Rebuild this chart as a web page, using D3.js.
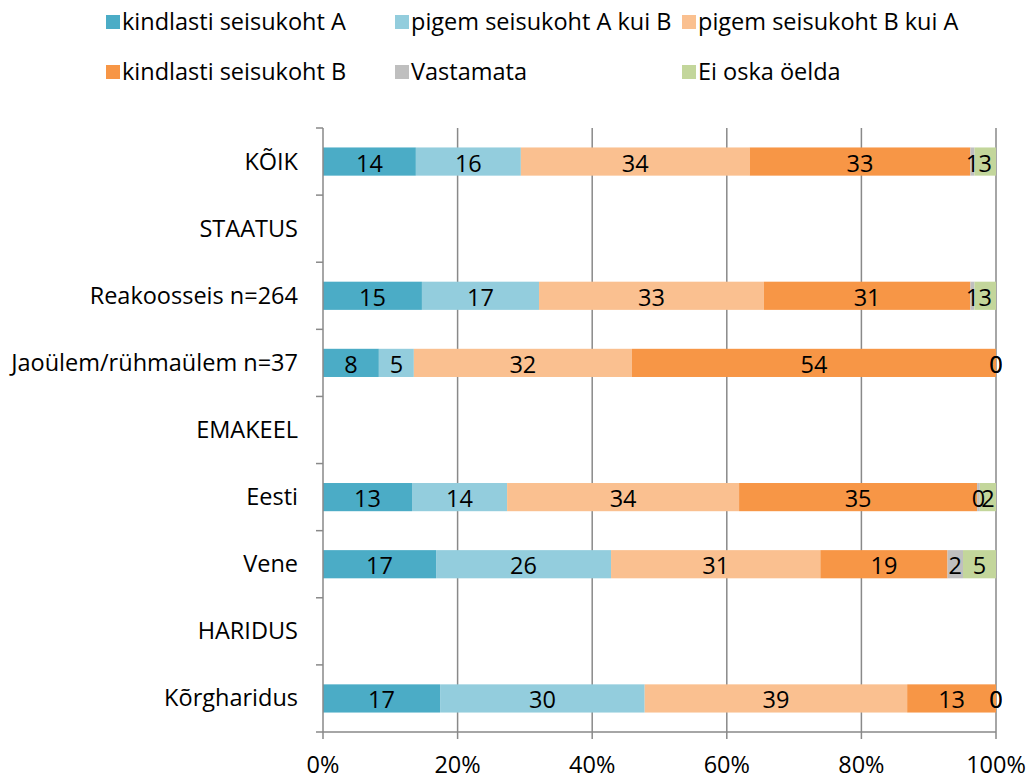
<!DOCTYPE html>
<html><head><meta charset="utf-8">
<script src="https://cdn.jsdelivr.net/npm/d3@7/dist/d3.min.js"></script>
<style>body{margin:0;background:#fff}text{font-family:"Open Sans",Lato,sans-serif}</style>
</head><body><svg id="c" width="1031" height="780"></svg>
<script>
const categories = ["KÕIK","STAATUS","Reakoosseis n=264","Jaoülem/rühmaülem n=37","EMAKEEL","Eesti","Vene","HARIDUS","Kõrgharidus"];
const seriesNames = ["kindlasti seisukoht A","pigem seisukoht A kui B","pigem seisukoht B kui A","kindlasti seisukoht B","Vastamata","Ei oska öelda"];
const colors = ["#4BACC6","#93CDDD","#FAC090","#F79646","#BFBFBF","#C3D69B"];
const kindlastiA = [13.8,null,14.7,8.3,null,13.2,16.8,null,17.4];
const pigemA     = [15.6,null,17.4,5.2,null,14.1,26.0,null,30.4];
const pigemB     = [34.0,null,33.4,32.4,null,34.4,31.1,null,39.0];
const kindlastiB = [32.8,null,30.7,54.1,null,35.3,18.9,null,13.2];
const vastamata  = [0.6,null,0.6,0,null,0.4,2.3,null,0];
const eiOska     = [3.2,null,3.2,0,null,2.4,4.9,null,0];
const xTicks = [0,0.2,0.4,0.6,0.8,1];
const series = [kindlastiA,pigemA,pigemB,kindlastiB,vastamata,eiOska];

const FS = 23.5;
const svg = d3.select("#c");
const x = d3.scaleLinear().domain([0,1]).range([323,996]);
const y = d3.scaleBand().domain(categories).range([128,732]).paddingInner(0.58).paddingOuter(0.29);
const step = y.step();
const axisColor = "#898989";

// gridlines
svg.append("g").selectAll("line").data(xTicks.slice(1)).join("line")
  .attr("x1",d=>x(d)).attr("x2",d=>x(d)).attr("y1",128).attr("y2",732)
  .attr("stroke",axisColor).attr("stroke-width",1.5);

// bars
const rows = categories.map((c,i)=>{
  const vals = series.map(s=>s[i]);
  if (vals[0]==null) return null;
  const tot = d3.sum(vals);
  let acc = 0;
  return vals.map((v,k)=>{const x0=acc/tot; acc+=v; return {c, k, v, x0, x1:acc/tot};});
}).filter(r=>r);
const segs = rows.flat();
svg.append("g").selectAll("rect").data(segs).join("rect")
  .attr("x",d=>x(d.x0)).attr("width",d=>x(d.x1)-x(d.x0))
  .attr("y",d=>y(d.c)).attr("height",y.bandwidth())
  .attr("fill",d=>colors[d.k]);
svg.append("g").selectAll("text").data(segs).join("text")
  .attr("x",d=>x((d.x0+d.x1)/2)).attr("y",d=>y(d.c)+y.bandwidth()/2+10)
  .attr("text-anchor","middle").attr("font-size",FS).attr("fill","#000")
  .text(d=>Math.round(d.v));

// left axis
const ax = svg.append("g");
ax.append("line").attr("x1",x(0)).attr("x2",x(0)).attr("y1",128).attr("y2",732).attr("stroke",axisColor).attr("stroke-width",1.5);
const bounds = d3.range(categories.length+1).map(i=>128+i*step);
ax.selectAll("line.t").data(bounds).join("line").attr("class","t")
  .attr("x1",x(0)-7).attr("x2",x(0)).attr("y1",d=>d).attr("y2",d=>d).attr("stroke",axisColor).attr("stroke-width",1.5);
ax.selectAll("text").data(categories).join("text")
  .attr("x",298).attr("y",d=>y(d)+y.bandwidth()/2+8)
  .attr("text-anchor","end").attr("font-size",FS).attr("fill","#000").text(d=>d);

// bottom axis
const bx = svg.append("g");
bx.append("line").attr("x1",x(0)).attr("x2",x(1)).attr("y1",732).attr("y2",732).attr("stroke",axisColor).attr("stroke-width",1.5);
bx.selectAll("line.t").data(xTicks).join("line").attr("class","t")
  .attr("x1",d=>x(d)).attr("x2",d=>x(d)).attr("y1",732).attr("y2",739).attr("stroke",axisColor).attr("stroke-width",1.5);
bx.selectAll("text").data(xTicks).join("text")
  .attr("x",d=>x(d)).attr("y",773).attr("text-anchor","middle").attr("font-size",FS).attr("fill","#000")
  .text(d=>d3.format(".0%")(d));

// legend
const legPos = [[106,22],[395,22],[682,22],[106,72],[395,72],[682,72]];
const lg = svg.append("g").selectAll("g").data(seriesNames).join("g")
  .attr("transform",(d,i)=>`translate(${legPos[i][0]},${legPos[i][1]})`);
lg.append("rect").attr("x",0).attr("y",-7).attr("width",14).attr("height",14).attr("fill",(d,i)=>colors[i]);
lg.append("text").attr("x",16).attr("y",8).attr("font-size",FS).attr("fill","#000").text(d=>d);
</script></body></html>
